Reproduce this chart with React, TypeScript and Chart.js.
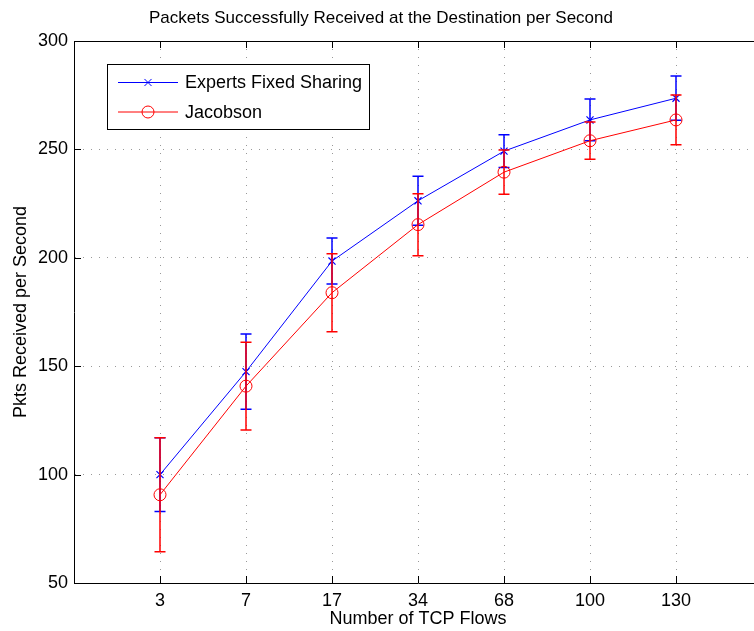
import React, { useEffect, useRef } from "react";
import { Chart, registerables } from "chart.js";

Chart.register(...registerables);

const chartTitle = "Packets Successfully Received at the Destination per Second";
const xAxisTitle = "Number of TCP Flows";
const yAxisTitle = "Pkts Received per Second";
const flowCounts = ["3", "7", "17", "34", "68", "100", "130"];
const seriesNames = ["Experts Fixed Sharing", "Jacobson"];
const expertsMean = [100, 147.5, 198.5, 226.3, 249.2, 263.6, 273.6];
const expertsErr = [17, 17.3, 10.6, 11.3, 7.6, 9.6, 10.2];
const jacobsonMean = [90.7, 140.8, 183.9, 215.3, 239.5, 254, 263.6];
const jacobsonErr = [26.3, 20.2, 18, 14.3, 10.2, 8.6, 11.5];
const yMin = 50;
const yMax = 300;
const yStep = 50;

const FONT = '"Liberation Sans", Arial, Helvetica, sans-serif';
const errorArrays = [expertsErr, jacobsonErr];

const errorBarPlugin = {
  id: "errorBars",
  beforeDatasetDraw(chart: any, args: any) {
    const errs = errorArrays[args.index];
    if (!errs) return;
    const ds = chart.data.datasets[args.index];
    const xs = chart.scales.x;
    const ys = chart.scales.y;
    const ctx = chart.ctx;
    ctx.save();
    ctx.strokeStyle = ds.borderColor;
    ctx.lineWidth = 1.5;
    ds.data.forEach((p: any, i: number) => {
      const x = xs.getPixelForValue(p.x);
      const yTop = ys.getPixelForValue(p.y + errs[i]);
      const yBot = ys.getPixelForValue(p.y - errs[i]);
      ctx.beginPath();
      ctx.moveTo(x, yTop);
      ctx.lineTo(x, yBot);
      ctx.moveTo(x - 5.5, yTop);
      ctx.lineTo(x + 5.5, yTop);
      ctx.moveTo(x - 5.5, yBot);
      ctx.lineTo(x + 5.5, yBot);
      ctx.stroke();
    });
    ctx.restore();
  },
};

const framePlugin = {
  id: "frame",
  beforeDatasetsDraw(chart: any) {
    const { ctx, chartArea, scales } = chart;
    const { left, right, top, bottom } = chartArea;
    ctx.save();
    ctx.strokeStyle = "#000";
    ctx.lineWidth = 1;
    ctx.beginPath();
    ctx.moveTo(left, Math.round(top) + 0.5);
    ctx.lineTo(right, Math.round(top) + 0.5);
    scales.x.ticks.forEach((t: any) => {
      const px = Math.round(scales.x.getPixelForValue(t.value)) + 0.5;
      ctx.moveTo(px, bottom);
      ctx.lineTo(px, bottom - 7);
      ctx.moveTo(px, top);
      ctx.lineTo(px, top + 7);
    });
    scales.y.ticks.forEach((t: any) => {
      const py = Math.round(scales.y.getPixelForValue(t.value)) + 0.5;
      ctx.moveTo(left, py);
      ctx.lineTo(left + 7, py);
    });
    ctx.stroke();
    ctx.restore();
  },
};

const legendPlugin = {
  id: "boxLegend",
  afterDraw(chart: any) {
    const { ctx, chartArea } = chart;
    const left = Math.round(chartArea.left) + 33;
    const top = Math.round(chartArea.top) + 23;
    const w = 262;
    const h = 65;
    ctx.save();
    ctx.fillStyle = "#fff";
    ctx.fillRect(left, top, w, h);
    ctx.strokeStyle = "#000";
    ctx.lineWidth = 1;
    ctx.strokeRect(left + 0.5, top + 0.5, w, h);
    chart.data.datasets.forEach((ds: any, i: number) => {
      const cy = top + 18.5 + i * 29.5;
      ctx.strokeStyle = ds.borderColor;
      ctx.lineWidth = 1;
      ctx.beginPath();
      ctx.moveTo(left + 11, cy);
      ctx.lineTo(left + 71, cy);
      ctx.stroke();
      const mx = left + 41;
      ctx.beginPath();
      if (ds.pointStyle === "crossRot") {
        const r = ds.pointRadius * Math.SQRT1_2;
        ctx.moveTo(mx - r, cy - r);
        ctx.lineTo(mx + r, cy + r);
        ctx.moveTo(mx - r, cy + r);
        ctx.lineTo(mx + r, cy - r);
      } else {
        ctx.arc(mx, cy, ds.pointRadius, 0, Math.PI * 2);
      }
      ctx.stroke();
      ctx.fillStyle = "#000";
      ctx.font = `18px ${FONT}`;
      ctx.textBaseline = "middle";
      ctx.textAlign = "left";
      ctx.fillText(seriesNames[i], left + 78, cy + 1);
    });
    ctx.restore();
  },
};

export default function App() {
  const ref = useRef<HTMLCanvasElement>(null);

  useEffect(() => {
    const canvas = ref.current;
    if (!canvas) return;
    const chart = new Chart(canvas, {
      type: "line",
      data: {
        datasets: [
          {
            label: seriesNames[0],
            data: expertsMean.map((v, i) => ({ x: i + 1, y: v })),
            borderColor: "#0000ff",
            backgroundColor: "#0000ff",
            borderWidth: 1,
            pointStyle: "crossRot",
            pointRadius: 5,
            pointBorderWidth: 1.2,
            pointBorderColor: "#0000ff",
            pointBackgroundColor: "rgba(0,0,0,0)",
            tension: 0,
            order: 1,
          },
          {
            label: seriesNames[1],
            data: jacobsonMean.map((v, i) => ({ x: i + 1, y: v })),
            borderColor: "#ff0000",
            backgroundColor: "#ff0000",
            borderWidth: 1,
            pointStyle: "circle",
            pointRadius: 6,
            pointBorderWidth: 1,
            pointBorderColor: "#ff0000",
            pointBackgroundColor: "rgba(0,0,0,0)",
            tension: 0,
            order: 0,
          },
        ],
      } as any,
      options: {
        animation: false,
        responsive: false,
        devicePixelRatio: 1,
        layout: { padding: { left: 0, right: 8, top: 0, bottom: 0 } },
        plugins: {
          legend: { display: false },
          tooltip: { enabled: false },
          title: {
            display: true,
            text: chartTitle,
            color: "#000",
            font: { family: FONT, size: 17, weight: "normal" },
            padding: { top: 8, bottom: 12.6 },
          },
        },
        scales: {
          x: {
            type: "linear",
            min: 0,
            max: flowCounts.length + 1,
            afterBuildTicks: (scale: any) => {
              scale.ticks = flowCounts.map((_, i) => ({ value: i + 1 }));
            },
            afterFit: (scale: any) => {
              scale.height = 48;
            },
            ticks: {
              color: "#000",
              font: { family: FONT, size: 18 },
              padding: 7,
              maxRotation: 0,
              callback: (value: any) => flowCounts[Number(value) - 1] ?? "",
            },
            grid: { color: "#999", lineWidth: 1, drawTicks: false },
            border: { display: true, color: "#000", width: 1, dash: [1, 7] },
            title: {
              display: true,
              text: xAxisTitle,
              color: "#000",
              font: { family: FONT, size: 18 },
              padding: { top: 0, bottom: 1 },
            },
          },
          y: {
            type: "linear",
            min: yMin,
            max: yMax,
            afterFit: (scale: any) => {
              scale.width = 74;
            },
            ticks: {
              stepSize: yStep,
              color: "#000",
              font: { family: FONT, size: 18 },
              padding: 6,
            },
            grid: { color: "#999", lineWidth: 1, drawTicks: false },
            border: { display: true, color: "#000", width: 1, dash: [1, 7] },
            title: {
              display: true,
              text: yAxisTitle,
              color: "#000",
              font: { family: FONT, size: 18 },
              padding: { top: 10, bottom: 0 },
            },
          },
        },
      } as any,
      plugins: [errorBarPlugin, framePlugin, legendPlugin],
    });
    return () => chart.destroy();
  }, []);

  return (
    <div
      style={{
        position: "fixed",
        left: 0,
        top: 0,
        width: 754,
        height: 631,
        overflow: "hidden",
        background: "#fff",
      }}
    >
      <canvas
        ref={ref}
        width={770}
        height={631}
        style={{ display: "block", width: 770, height: 631 }}
      />
    </div>
  );
}
